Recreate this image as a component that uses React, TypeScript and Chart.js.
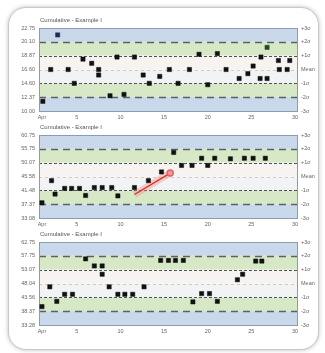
import React, { useEffect, useRef } from "react";
import { Chart, registerables } from "chart.js";

Chart.register(...registerables);

// ---------- data ----------
const xTickValues = [1, 5, 10, 15, 20, 25, 30];
const xTickLabels = ["Apr", "5", "10", "15", "20", "25", "30"];
const rightLabels = ["-3σ", "-2σ", "-1σ", "Mean", "+1σ", "+2σ", "+3σ"];

const titles = ["Cumulative - Example I", "Cumulative - Example I", "Cumulative - Example I"];

const leftLabels1 = ["10.00", "12.37", "14.60", "16.60", "18.87", "20.10", "22.75"];
const leftLabels2 = ["33.08", "37.37", "41.48", "45.58", "50.07", "55.75", "60.75"];
const leftLabels3 = ["33.28", "38.37", "43.56", "48.04", "53.07", "57.75", "62.75"];

// chart 1 (day, sigma)
const days1 = [1.1, 2.0, 2.8, 4.0, 4.7, 5.7, 6.7, 7.5, 7.5, 8.8, 9.6, 10.4, 11.6, 12.6, 13.3, 14.5, 15.6, 16.6, 17.9, 19.0, 20.0, 21.1, 22.1, 23.6, 24.6, 25.2, 26.0, 26.1, 26.8, 26.8, 28.1, 28.2, 29.1, 29.4];
const vals1 = [-2.3, 0, 2.5, 0, -1.0, 0.75, 0.45, 0, -0.4, -1.9, 0.9, -1.8, 0.9, -0.4, -1.0, -0.5, 0, -1.0, 0, 1.1, -1.1, 1.15, 0, -0.65, -0.3, 0.25, -0.65, 0.9, -0.65, 1.6, 0.65, 0, 0, 0.65];
const colors1 = ["#111", "#111", "#1c2d5c", "#111", "#111", "#111", "#111", "#111", "#111", "#111", "#111", "#111", "#111", "#111", "#111", "#111", "#111", "#111", "#111", "#111", "#111", "#111", "#111", "#111", "#111", "#111", "#111", "#111", "#111", "#1f4d1f", "#111", "#111", "#111", "#111"];

// chart 2
const days2 = [1.0, 2.1, 2.5, 3.6, 4.4, 5.3, 6.0, 7.0, 7.9, 9.0, 9.7, 11.6, 13.2, 14.7, 16.1, 17.0, 18.2, 19.3, 20.0, 20.8, 22.6, 24.2, 25.2, 26.6];
const vals2 = [-1.9, -0.3, -1.27, -0.86, -0.86, -0.86, -1.37, -0.8, -0.8, -0.8, -1.4, -0.8, -0.3, 0.33, 1.74, 0.8, 0.8, 1.32, 0.8, 1.32, 1.28, 1.32, 1.32, 1.32];
const trendDays2 = [11.6, 15.7];
const trendVals2 = [-1.3, 0.25];

// chart 3
const days3 = [1.0, 1.9, 2.7, 3.6, 4.5, 6.0, 7.0, 7.9, 7.9, 8.7, 9.7, 10.5, 11.4, 12.7, 14.6, 15.5, 16.3, 17.2, 18.3, 19.3, 20.2, 21.1, 23.4, 24.0, 25.5, 26.2];
const vals3 = [-1.67, -0.24, -1.29, -0.78, -0.78, 1.78, 1.27, 1.27, 0.67, -0.24, -0.78, -0.78, -0.78, -0.24, 1.67, 1.67, 1.67, 1.67, -1.33, -0.73, -0.73, -1.29, 0.27, 0.67, 1.62, 1.62];

// ---------- plugins ----------
const bandsPlugin = {
  id: "bands",
  beforeDatasetsDraw(chart: any) {
    const { ctx, chartArea: a, scales } = chart;
    const y = scales.y;
    const py = (v: number) => y.getPixelForValue(v);
    ctx.save();
    const rect = (from: number, to: number, color: string) => {
      ctx.fillStyle = color;
      ctx.fillRect(a.left, py(to), a.right - a.left, py(from) - py(to));
    };
    rect(2, 3, "#c9d8ea");
    rect(-3, -2, "#c9d8ea");
    rect(1, 2, "#d7e8c7");
    rect(-2, -1, "#d7e8c7");
    rect(0, 1, "#f6f3f1");
    rect(-1, 0, "#f2f3f4");
    const hline = (v: number, color: string, dash: number[], w: number) => {
      ctx.beginPath();
      ctx.setLineDash(dash);
      ctx.strokeStyle = color;
      ctx.lineWidth = w;
      const yy = Math.round(py(v)) + 0.5;
      ctx.moveTo(a.left, yy);
      ctx.lineTo(a.right, yy);
      ctx.stroke();
    };
    hline(2, "#5a6068", [7, 5], 1.3);
    hline(-2, "#5a6068", [7, 5], 1.3);
    hline(1, "#4d5258", [3, 2], 1);
    hline(-1, "#4d5258", [3, 2], 1);
    hline(0, "#d9c9a9", [3, 3], 1);
    ctx.setLineDash([]);
    ctx.strokeStyle = "#8b9bb0";
    ctx.lineWidth = 1;
    ctx.strokeRect(Math.round(a.left) + 0.5, Math.round(a.top) + 0.5, Math.round(a.right - a.left), Math.round(a.bottom - a.top));
    ctx.restore();
  },
};

const titlePlugin = {
  id: "ctitle",
  afterDraw(chart: any) {
    const { ctx, chartArea: a } = chart;
    const t = chart.options.plugins.ctitle?.text;
    if (!t) return;
    ctx.save();
    ctx.font = "6px 'Liberation Sans', Arial, sans-serif";
    ctx.fillStyle = "#555";
    ctx.textBaseline = "middle";
    ctx.textAlign = "left";
    ctx.fillText(t, a.left + 1, a.top - 8);
    ctx.restore();
  },
};

type Props = {
  top: number;
  title: string;
  days: number[];
  vals: number[];
  colors?: string[];
  left: string[];
  trend?: { d: number[]; v: number[] };
};

function ControlChart({ top, title, days, vals, colors, left, trend }: Props) {
  const ref = useRef<HTMLCanvasElement>(null);
  useEffect(() => {
    if (!ref.current) return;
    const datasets: any[] = [];
    if (trend) {
      const pts = trend.d.map((d, i) => ({ x: d, y: trend.v[i] }));
      datasets.push({
        type: "line",
        data: pts,
        borderColor: "rgba(240,130,130,0.35)",
        borderWidth: 7,
        pointRadius: 0,
        order: 3,
      });
      datasets.push({
        type: "line",
        data: pts,
        borderColor: "#e0302a",
        borderWidth: 1.4,
        pointRadius: [0, 3],
        pointBackgroundColor: "#f19a9a",
        pointBorderColor: "#e06060",
        order: 2,
      });
    }
    datasets.push({
      type: "scatter",
      data: days.map((d, i) => ({ x: d, y: vals[i] })),
      pointStyle: "rect",
      pointRadius: 3,
      backgroundColor: colors || "#111",
      borderColor: colors || "#111",
      borderWidth: 0.5,
      order: 1,
    });
    const tickFont = { size: 5.5, family: "'Liberation Sans', Arial, sans-serif" };
    const grid = { display: false, drawTicks: false };
    const chart = new Chart(ref.current, {
      type: "scatter",
      data: { datasets },
      options: {
        responsive: false,
        animation: false,
        layout: { padding: { top: 13, left: 0, right: 0, bottom: 0 } },
        plugins: {
          legend: { display: false },
          tooltip: { enabled: false },
          ctitle: { text: title },
        } as any,
        scales: {
          x: {
            type: "linear",
            min: 0.66,
            max: 30.23,
            grid,
            border: { display: false },
            afterBuildTicks: (s: any) => {
              s.ticks = xTickValues.map((v) => ({ value: v }));
            },
            afterFit: (s: any) => {
              s.height = 11;
            },
            ticks: {
              autoSkip: false,
              maxRotation: 0,
              padding: 3,
              color: "#666",
              font: tickFont,
              callback: (_v: any, i: number) => xTickLabels[i],
            },
          },
          y: {
            type: "linear",
            min: -3,
            max: 3,
            position: "left",
            grid,
            border: { display: false },
            afterFit: (s: any) => {
              s.width = 29;
            },
            ticks: {
              stepSize: 1,
              padding: 4,
              color: "#666",
              font: tickFont,
              callback: (_v: any, i: number) => left[i],
            },
          },
          y2: {
            type: "linear",
            min: -3,
            max: 3,
            position: "right",
            grid,
            border: { display: false },
            afterFit: (s: any) => {
              s.width = 19;
            },
            ticks: {
              stepSize: 1,
              padding: 4,
              color: "#666",
              font: tickFont,
              callback: (_v: any, i: number) => rightLabels[i],
            },
          },
        },
      } as any,
      plugins: [bandsPlugin, titlePlugin],
    });
    return () => chart.destroy();
  }, []);
  return (
    <canvas
      ref={ref}
      width={306}
      height={107}
      style={{ position: "absolute", left: 10, top, width: 306, height: 107 }}
    />
  );
}

export default function App() {
  return (
    <div>
      <div
        style={{
          position: "absolute",
          left: 8,
          top: 7,
          width: 309,
          height: 341,
          border: "1px solid #c8c8c8",
          borderRadius: 18,
          background: "#fff",
          boxShadow: "0 0 4px rgba(0,0,0,0.25)",
        }}
      />
      <ControlChart top={15} title={titles[0]} days={days1} vals={vals1} colors={colors1} left={leftLabels1} />
      <ControlChart
        top={122}
        title={titles[1]}
        days={days2}
        vals={vals2}
        left={leftLabels2}
        trend={{ d: trendDays2, v: trendVals2 }}
      />
      <ControlChart top={229} title={titles[2]} days={days3} vals={vals3} left={leftLabels3} />
    </div>
  );
}
